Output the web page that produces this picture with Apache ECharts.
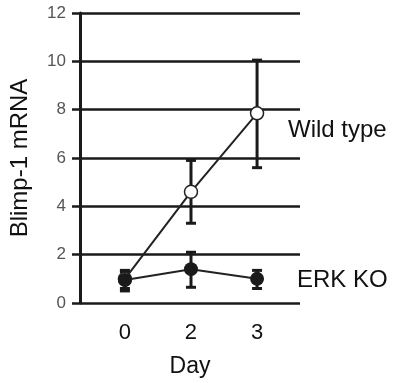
<!DOCTYPE html>
<html>
<head>
<meta charset="utf-8">
<script src="https://cdn.jsdelivr.net/npm/echarts@6/dist/echarts.min.js"></script>
<style>html,body{margin:0;padding:0;background:#fff}#c{width:400px;height:383px}</style>
</head>
<body>
<div id="c"></div>
<script>
var dayLabels = ['0', '2', '3'];
var yTicks = [0, 2, 4, 6, 8, 10, 12];
var wildType = [1.0, 4.6, 7.85];
var wildTypeLow = [0.6, 3.3, 5.6];
var wildTypeHigh = [1.3, 5.9, 10.05];
var erkKO = [0.95, 1.4, 1.0];
var erkLow = [0.5, 0.65, 0.6];
var erkHigh = [1.35, 2.1, 1.35];
var seriesNames = ['Wild type', 'ERK KO'];

var FONT = "'Liberation Sans', Arial, sans-serif";
function pts(vals){ return vals.map(function(v,i){ return [i, v]; }); }
function errs(lo, hi){ return lo.map(function(v,i){ return [i, v, hi[i]]; }); }
function errRender(params, api){
  var x = api.value(0);
  var lo = api.coord([x, api.value(1)]);
  var hi = api.coord([x, api.value(2)]);
  var w = 5;
  var st = {stroke: '#1a1a1a', lineWidth: 3};
  return {type: 'group', children: [
    {type: 'line', shape: {x1: lo[0], y1: lo[1], x2: hi[0], y2: hi[1]}, style: st},
    {type: 'line', shape: {x1: lo[0]-w, y1: lo[1], x2: lo[0]+w, y2: lo[1]}, style: st},
    {type: 'line', shape: {x1: hi[0]-w, y1: hi[1], x2: hi[0]+w, y2: hi[1]}, style: st}
  ]};
}

var chart = echarts.init(document.getElementById('c'), null, {renderer: 'canvas'});
chart.setOption({
  animation: false,
  backgroundColor: '#fff',
  grid: {left: 80, top: 13, width: 220, height: 290, containLabel: false},
  xAxis: {
    type: 'value', min: -0.68, max: 2.65,
    axisLine: {show: false, onZero: false}, axisTick: {show: false}, splitLine: {show: false},
    axisLabel: {customValues: [0, 1, 2], formatter: function(v){ return dayLabels[Math.round(v)]; },
      fontSize: 22, color: '#111', fontFamily: FONT, margin: 19},
    name: 'Day', nameLocation: 'middle', nameGap: 52,
    nameTextStyle: {fontSize: 23, color: '#111', fontFamily: FONT}
  },
  yAxis: {
    type: 'value', min: yTicks[0], max: yTicks[yTicks.length-1], interval: 2,
    axisLine: {show: true, onZero: false, lineStyle: {color: '#1a1a1a', width: 3}},
    axisTick: {show: true, length: 8, lineStyle: {color: '#1a1a1a', width: 2.5}},
    splitLine: {show: true, lineStyle: {color: '#1a1a1a', width: 2.5}},
    axisLabel: {fontSize: 17, color: '#555', fontFamily: FONT, margin: 14},
    name: 'Blimp-1 mRNA', nameLocation: 'middle', nameGap: 48, nameRotate: 90,
    nameTextStyle: {fontSize: 24, color: '#111', fontFamily: FONT}
  },
  series: [
    {type: 'custom', renderItem: errRender, data: errs(wildTypeLow, wildTypeHigh), z: 2},
    {type: 'custom', renderItem: errRender, data: errs(erkLow, erkHigh), z: 2},
    {name: seriesNames[0], type: 'line', data: pts(wildType), z: 3,
      lineStyle: {color: '#222', width: 2}, symbol: 'circle', symbolSize: 13,
      itemStyle: {color: '#fff', borderColor: '#222', borderWidth: 1.5}},
    {name: seriesNames[1], type: 'line', data: pts(erkKO), z: 4,
      lineStyle: {color: '#222', width: 2}, symbol: 'circle', symbolSize: 14,
      itemStyle: {color: '#1a1a1a', borderColor: '#1a1a1a', borderWidth: 0}}
  ],
  graphic: [
    {type: 'text', left: 288, top: 118, style: {text: seriesNames[0], font: '24px ' + FONT, fill: '#111'}},
    {type: 'text', left: 297, top: 268, style: {text: seriesNames[1], font: '24px ' + FONT, fill: '#111'}}
  ]
});
</script>
</body>
</html>
